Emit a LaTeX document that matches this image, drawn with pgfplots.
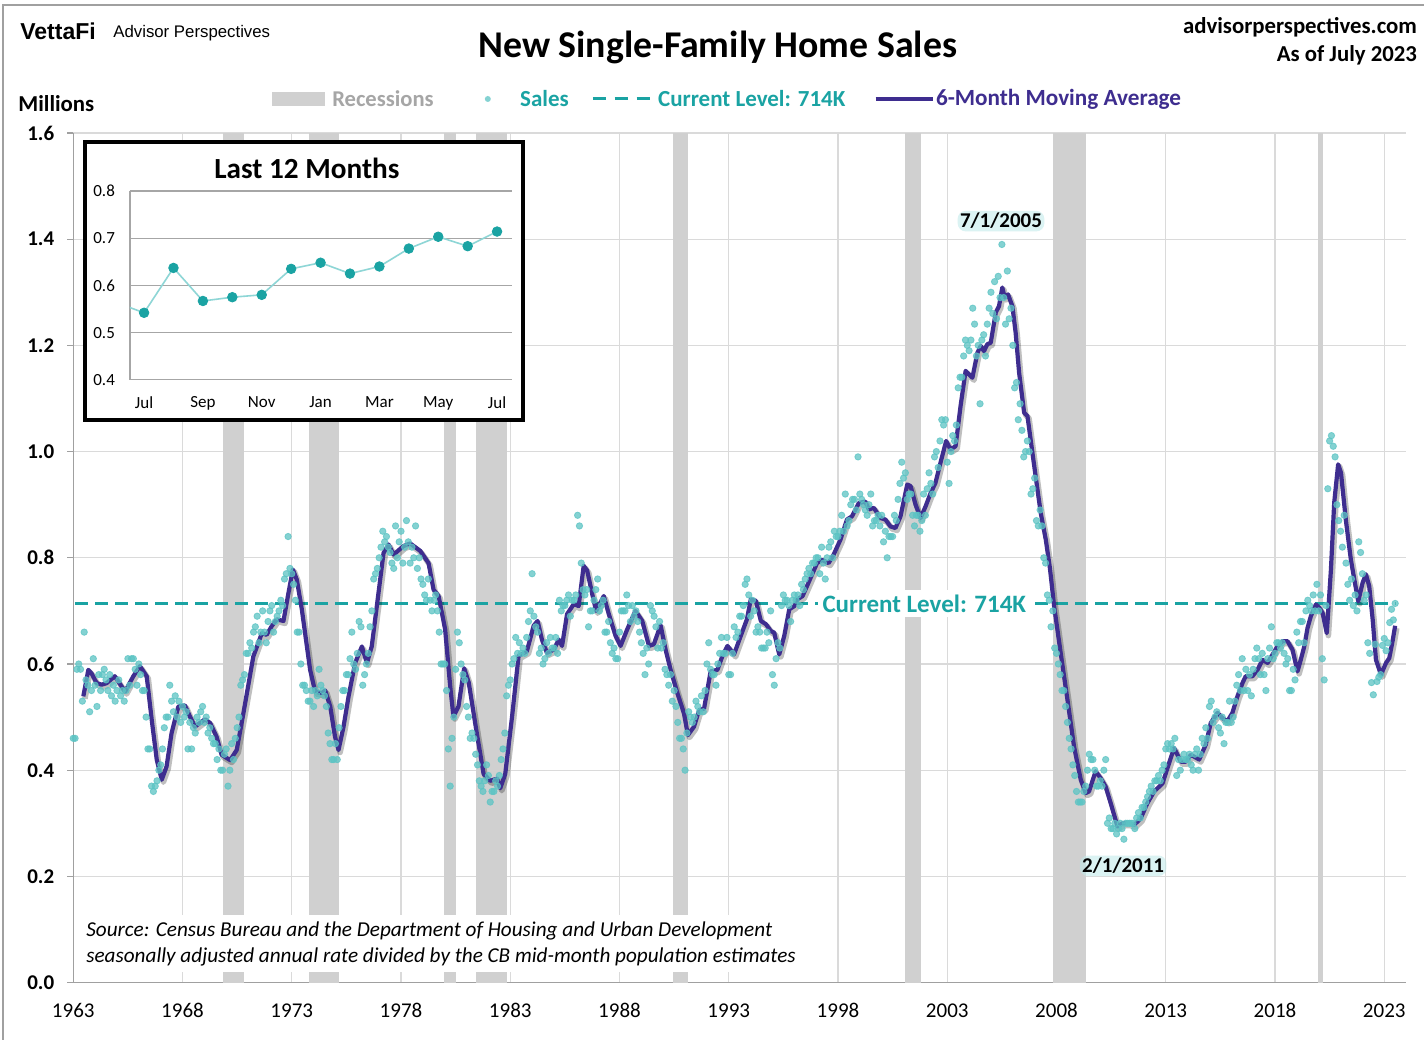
\documentclass[border=0pt]{standalone}
\usepackage{pgfplots}
\usepackage{pgfplotstable}
\pgfplotsset{compat=1.18}
\usepackage{fontspec}
\setmainfont{Carlito}
\newfontfamily\arialf{Liberation Sans}
\definecolor{recgray}{HTML}{D0D0D0}
\definecolor{gridgray}{HTML}{DADADA}
\definecolor{axgray}{HTML}{A0A0A0}
\definecolor{insetgray}{HTML}{A6A6A6}
\definecolor{tealc}{HTML}{1AA3A3}
\definecolor{dotc}{HTML}{5CC4C4}
\definecolor{linec}{HTML}{8ED6D6}
\definecolor{purp}{HTML}{3E2D8F}
\definecolor{leggray}{HTML}{A6A6A6}
\definecolor{glowc}{HTML}{BFEAEA}

\pgfplotstableread[header=false,row sep=\\]{
.46\\.46\\.59\\.60\\.59\\.53\\.66\\.57\\.56\\.51\\.55\\.61\\
.56\\.52\\.58\\.55\\.58\\.59\\.57\\.55\\.58\\.54\\.56\\.53\\
.55\\.57\\.54\\.55\\.53\\.55\\.61\\.56\\.61\\.61\\.59\\.56\\
.60\\.58\\.55\\.55\\.50\\.44\\.44\\.37\\.36\\.37\\.38\\.40\\
.41\\.44\\.48\\.50\\.50\\.56\\.53\\.51\\.54\\.50\\.53\\.49\\
.52\\.50\\.51\\.44\\.49\\.44\\.48\\.47\\.50\\.49\\.51\\.52\\
.49\\.50\\.47\\.48\\.46\\.45\\.45\\.42\\.44\\.40\\.40\\.43\\
.44\\.37\\.40\\.45\\.42\\.46\\.48\\.50\\.56\\.57\\.58\\.62\\
.62\\.64\\.63\\.66\\.67\\.69\\.64\\.66\\.70\\.66\\.64\\.68\\
.70\\.71\\.66\\.68\\.69\\.70\\.72\\.71\\.76\\.77\\.84\\.78\\
.77\\.75\\.72\\.66\\.66\\.60\\.56\\.56\\.55\\.53\\.53\\.55\\
.52\\.55\\.54\\.59\\.56\\.55\\.54\\.52\\.47\\.45\\.42\\.42\\
.45\\.42\\.48\\.52\\.55\\.55\\.58\\.58\\.61\\.66\\.60\\.59\\
.62\\.68\\.67\\.56\\.58\\.60\\.62\\.67\\.70\\.76\\.77\\.78\\
.80\\.82\\.85\\.83\\.84\\.82\\.81\\.79\\.78\\.86\\.80\\.83\\
.85\\.79\\.82\\.87\\.83\\.79\\.82\\.80\\.86\\.78\\.80\\.76\\
.75\\.73\\.72\\.76\\.72\\.70\\.72\\.73\\.70\\.66\\.60\\.60\\
.60\\.55\\.44\\.37\\.46\\.50\\.59\\.66\\.64\\.60\\.58\\.57\\
.52\\.50\\.46\\.47\\.46\\.43\\.41\\.38\\.37\\.36\\.38\\.41\\
.39\\.34\\.36\\.36\\.38\\.37\\.39\\.42\\.44\\.47\\.54\\.56\\
.57\\.60\\.61\\.65\\.62\\.64\\.62\\.63\\.62\\.65\\.68\\.70\\
.77\\.69\\.67\\.66\\.62\\.63\\.60\\.61\\.64\\.62\\.65\\.63\\
.63\\.65\\.62\\.72\\.70\\.71\\.71\\.72\\.73\\.69\\.72\\.72\\
.73\\.88\\.86\\.79\\.74\\.73\\.74\\.67\\.70\\.70\\.72\\.74\\
.76\\.70\\.71\\.72\\.66\\.66\\.68\\.64\\.62\\.63\\.61\\.61\\
.66\\.70\\.70\\.70\\.73\\.71\\.68\\.71\\.69\\.70\\.68\\.66\\
.64\\.62\\.58\\.63\\.60\\.71\\.70\\.69\\.67\\.63\\.68\\.63\\
.64\\.59\\.58\\.56\\.58\\.53\\.55\\.52\\.49\\.46\\.46\\.44\\
.40\\.47\\.51\\.50\\.49\\.50\\.53\\.52\\.51\\.54\\.51\\.55\\
.60\\.64\\.59\\.58\\.58\\.56\\.60\\.62\\.65\\.62\\.62\\.65\\
.58\\.58\\.62\\.67\\.65\\.66\\.69\\.69\\.71\\.75\\.76\\.73\\
.69\\.72\\.70\\.66\\.67\\.66\\.63\\.63\\.63\\.66\\.64\\.70\\
.58\\.56\\.61\\.64\\.63\\.71\\.73\\.72\\.72\\.71\\.68\\.72\\
.73\\.72\\.73\\.71\\.75\\.74\\.76\\.77\\.78\\.77\\.79\\.79\\
.80\\.80\\.77\\.82\\.79\\.76\\.80\\.82\\.83\\.80\\.85\\.84\\
.84\\.85\\.88\\.85\\.92\\.86\\.87\\.90\\.91\\.91\\.89\\.99\\
.92\\.91\\.90\\.89\\.88\\.90\\.92\\.86\\.87\\.87\\.88\\.86\\
.88\\.83\\.85\\.80\\.84\\.84\\.84\\.88\\.87\\.91\\.94\\.98\\
.95\\.96\\.91\\.92\\.92\\.88\\.86\\.88\\.88\\.85\\.87\\.92\\
.88\\.93\\.96\\.94\\.92\\.99\\1.00\\.97\\1.02\\1.06\\1.05\\1.06\\
.98\\.94\\1.00\\1.03\\1.02\\1.05\\1.12\\1.14\\1.14\\1.18\\1.21\\1.20\\
1.19\\1.21\\1.27\\1.24\\1.18\\1.20\\1.09\\1.21\\1.22\\1.18\\1.24\\1.27\\
1.30\\1.26\\1.32\\1.25\\1.33\\1.29\\1.39\\1.29\\1.24\\1.34\\1.25\\1.27\\
1.20\\1.12\\1.13\\1.06\\1.09\\1.04\\.99\\1.00\\1.02\\1.00\\.92\\.93\\
.95\\.87\\.86\\.89\\.86\\.80\\.79\\.73\\.72\\.67\\.70\\.63\\
.62\\.60\\.58\\.55\\.55\\.52\\.49\\.46\\.44\\.41\\.39\\.36\\
.34\\.34\\.34\\.36\\.37\\.40\\.43\\.42\\.42\\.40\\.37\\.37\\
.38\\.37\\.40\\.42\\.30\\.31\\.29\\.29\\.30\\.28\\.29\\.30\\
.29\\.27\\.30\\.30\\.30\\.30\\.30\\.29\\.31\\.32\\.31\\.33\\
.33\\.34\\.35\\.36\\.37\\.36\\.38\\.38\\.39\\.38\\.40\\.41\\
.44\\.45\\.44\\.45\\.44\\.46\\.39\\.42\\.40\\.42\\.43\\.42\\
.42\\.43\\.41\\.40\\.43\\.44\\.40\\.43\\.46\\.45\\.48\\.46\\
.52\\.53\\.49\\.50\\.51\\.48\\.47\\.50\\.45\\.49\\.49\\.53\\
.49\\.50\\.53\\.56\\.58\\.55\\.61\\.55\\.59\\.55\\.58\\.54\\
.59\\.61\\.63\\.61\\.58\\.62\\.58\\.55\\.61\\.63\\.67\\.61\\
.62\\.64\\.64\\.63\\.64\\.62\\.60\\.61\\.55\\.55\\.59\\.57\\
.66\\.64\\.68\\.68\\.64\\.70\\.72\\.71\\.70\\.73\\.70\\.75\\
.70\\.73\\.61\\.57\\.71\\.93\\1.02\\1.03\\1.01\\.99\\.90\\.87\\
.85\\.82\\.88\\.79\\.75\\.72\\.76\\.71\\.73\\.70\\.83\\.81\\
.77\\.72\\.73\\.64\\.62\\.565\\.542\\.637\\.567\\.575\\.58\\.635\\
.648\\.625\\.64\\.678\\.703\\.683\\.714\\
}\salesdata

\pgfplotstableread{
x y
1963.46 .539
1963.69 .589
1963.84 .582
1964.07 .564
1964.3 .561
1964.53 .564
1964.9 .577
1965.37 .548
1965.75 .577
1966.05 .596
1966.36 .577
1966.59 .495
1966.82 .42
1967.05 .382
1967.27 .407
1967.5 .47
1967.81 .52
1968.11 .522
1968.34 .501
1968.57 .482
1969.03 .496
1969.26 .489
1969.56 .463
1969.79 .429
1970.18 .419
1970.48 .438
1970.79 .508
1971.24 .614
1971.63 .658
1971.85 .655
1972.08 .671
1972.31 .684
1972.62 .681
1972.85 .734
1973.05 .778
1973.23 .759
1973.46 .703
1973.61 .658
1973.84 .589
1974.07 .548
1974.37 .545
1974.53 .55
1974.76 .52
1974.98 .463
1975.14 .438
1975.37 .482
1975.6 .539
1975.9 .602
1976.21 .633
1976.44 .602
1976.66 .633
1976.97 .734
1977.2 .809
1977.43 .825
1977.66 .806
1978.11 .822
1978.42 .827
1978.88 .813
1979.26 .79
1979.49 .74
1979.72 .728
1980.02 .665
1980.25 .558
1980.4 .501
1980.63 .52
1980.89 .592
1981.1 .565
1981.47 .469
1981.78 .393
1982.08 .38
1982.39 .384
1982.54 .366
1982.77 .393
1983.08 .5
1983.38 .615
1983.76 .624
1984.07 .672
1984.25 .681
1984.45 .646
1984.68 .621
1984.99 .627
1985.22 .646
1985.37 .634
1985.6 .694
1985.91 .713
1986.13 .709
1986.36 .785
1986.52 .776
1986.75 .732
1986.93 .7
1987.28 .728
1987.51 .694
1987.82 .653
1988.05 .634
1988.35 .665
1988.73 .7
1989.04 .681
1989.35 .634
1989.57 .637
1989.88 .673
1990.11 .627
1990.34 .589
1990.65 .545
1990.95 .507
1991.13 .466
1991.41 .482
1991.64 .513
1991.87 .516
1992.17 .586
1992.48 .589
1992.71 .615
1992.94 .634
1993.24 .618
1993.55 .653
1993.83 .684
1994.01 .722
1994.24 .719
1994.47 .681
1994.7 .675
1994.93 .662
1995.08 .659
1995.31 .618
1995.54 .653
1995.77 .703
1996.0 .709
1996.15 .722
1996.38 .728
1996.69 .757
1997.04 .79
1997.27 .796
1997.57 .79
1997.8 .806
1998.11 .834
1998.41 .872
1998.64 .878
1998.95 .903
1999.25 .906
1999.41 .891
1999.64 .894
1999.94 .875
2000.17 .872
2000.4 .859
2000.63 .856
2000.86 .878
2001.17 .938
2001.32 .935
2001.55 .9
2001.78 .875
2002.01 .897
2002.24 .922
2002.46 .941
2002.69 .979
2002.95 1.02
2003.15 1.004
2003.38 1.01
2003.61 1.086
2003.84 1.152
2004.15 1.139
2004.38 1.186
2004.53 1.199
2004.68 1.189
2004.83 1.202
2004.99 1.205
2005.22 1.262
2005.37 1.274
2005.52 1.309
2005.63 1.29
2005.78 1.296
2005.98 1.274
2006.13 1.224
2006.29 1.148
2006.52 1.073
2006.67 1.067
2006.9 .997
2007.13 .928
2007.28 .884
2007.51 .834
2007.7 .78
2007.89 .709
2008.19 .621
2008.5 .533
2008.8 .445
2009.11 .382
2009.34 .357
2009.49 .36
2009.79 .398
2010.02 .385
2010.25 .369
2010.48 .338
2010.79 .294
2011.02 .3
2011.32 .3
2011.55 .297
2011.85 .309
2012.16 .338
2012.47 .36
2012.85 .375
2013.15 .413
2013.38 .442
2013.69 .416
2013.92 .416
2014.15 .429
2014.53 .42
2014.83 .448
2015.06 .489
2015.37 .508
2015.6 .498
2015.82 .492
2016.05 .508
2016.28 .539
2016.51 .564
2016.66 .577
2016.97 .577
2017.2 .589
2017.43 .608
2017.66 .602
2017.89 .618
2018.11 .633
2018.34 .643
2018.57 .643
2018.8 .627
2019.03 .586
2019.18 .608
2019.34 .633
2019.49 .668
2019.64 .69
2019.87 .712
2020.02 .706
2020.18 .696
2020.37 .658
2020.56 .778
2020.71 .904
2020.89 .976
2021.02 .96
2021.24 .872
2021.47 .797
2021.63 .759
2021.81 .718
2022.01 .753
2022.16 .769
2022.31 .747
2022.47 .684
2022.62 .608
2022.85 .58
2023.08 .602
2023.23 .611
2023.38 .643
2023.5 .672
}\madata

\pgfplotstableread{
m v
-1 .565
0 .542
1 .637
2 .567
3 .575
4 .58
5 .635
6 .648
7 .625
8 .64
9 .678
10 .703
11 .683
12 .714
}\insetdata

\tikzset{glowlbl/.style={font=\bfseries\fontsize{10.5}{12}\selectfont, text=black, fill=glowc, fill opacity=0.55, text opacity=1, rounded corners=4pt, inner sep=1.2pt}}

\begin{document}
\begin{tikzpicture}
\fill[white] (0,0) rectangle (712.5pt,-520pt);
\draw[axgray, line width=0.6pt] (1.5pt,-520pt) -- (1.5pt,-2.5pt) -- (712.5pt,-2.5pt);

\begin{axis}[at={(36.65pt,-491.5pt)}, anchor=south west, scale only axis,
  width=666.7pt, height=425pt,
  xmin=1963, xmax=2024, ymin=0, ymax=1.6,
  axis lines*=left, axis line style={draw=axgray, line width=0.6pt},
  xtick={1963,1968,1973,1978,1983,1988,1993,1998,2003,2008,2013,2018,2023},
  ytick={0,0.2,0.4,0.6,0.8,1.0,1.2,1.4,1.6},
  grid=major, grid style={draw=gridgray, line width=0.6pt},
  major tick length=3pt, tick align=outside, tick style={draw=axgray, line width=0.6pt},
  xtick style={draw=none},
  /pgf/number format/assume math mode=true,
  xticklabel style={font=\fontsize{10.5}{12}\selectfont, /pgf/number format/1000 sep={}, yshift=-4pt},
  yticklabel style={font=\bfseries\fontsize{10.5}{12}\selectfont, /pgf/number format/fixed, /pgf/number format/fixed zerofill, /pgf/number format/precision=1, xshift=-3pt},
]
% recessions
\addplot[fill=recgray, draw=none] coordinates {(1969.85,1.6)(1970.8,1.6)} \closedcycle;
\addplot[fill=recgray, draw=none] coordinates {(1973.77,1.6)(1975.14,1.6)} \closedcycle;
\addplot[fill=recgray, draw=none] coordinates {(1979.95,1.6)(1980.5,1.6)} \closedcycle;
\addplot[fill=recgray, draw=none] coordinates {(1981.41,1.6)(1982.83,1.6)} \closedcycle;
\addplot[fill=recgray, draw=none] coordinates {(1990.43,1.6)(1991.15,1.6)} \closedcycle;
\addplot[fill=recgray, draw=none] coordinates {(2001.07,1.6)(2001.8,1.6)} \closedcycle;
\addplot[fill=recgray, draw=none] coordinates {(2007.84,1.6)(2009.35,1.6)} \closedcycle;
\addplot[fill=recgray, draw=none] coordinates {(2019.96,1.6)(2020.2,1.6)} \closedcycle;
% sales
\addplot[dotc, only marks, mark=*, mark size=1.6pt, mark options={draw=none, fill=dotc, opacity=0.75}]
  table[x expr=1963+\coordindex/12, y index=0] {\salesdata};
% current level
\addplot[tealc, line width=1.5pt, dash pattern=on 6.5pt off 3.5pt] coordinates {(1963.1,0.714)(2023.5,0.714)};
% moving average shadow + line
\addplot[black, opacity=0.25, line width=2.8pt, xshift=0.8pt, yshift=-1.2pt, line join=round] table[x=x,y=y] {\madata};
\addplot[purp, line width=2.1pt, line join=round] table[x=x,y=y] {\madata};
\node[fill=white, text=tealc, font=\bfseries\fontsize{12.5}{14}\selectfont, inner sep=2.5pt] at (axis cs:2001.95,0.714) {Current Level: 714K};
\node[glowlbl] at (axis cs:2005.46,1.434) {7/1/2005};
\node[glowlbl] at (axis cs:2011.05,0.22) {2/1/2011};
\end{axis}

\begin{scope}[x=0.5pt,y=-0.5pt]
\draw[line width=2pt, fill=white] (85,142) rectangle (523,420);
\node[anchor=west, fill=white, inner sep=3pt, align=left, font=\itshape\fontsize{10.6}{13}\selectfont] at (80,944)
  {Source: Census Bureau and the Department of Housing and Urban Development\\seasonally adjusted annual rate divided by the CB mid-month population estimates};
\end{scope}

\begin{axis}[at={(65pt,-190pt)}, anchor=south west, scale only axis,
  width=191pt, height=94.5pt,
  xmin=-0.48, xmax=12.5, ymin=0.4, ymax=0.8,
  axis lines*=left, x axis line style={draw=none}, y axis line style={draw=insetgray, line width=0.6pt},
  ytick={0.4,0.5,0.6,0.7,0.8}, ymajorgrids, grid style={draw=insetgray, line width=0.6pt},
  xtick={0,2,4,6,8,10,12}, xticklabels={Jul,Sep,Nov,Jan,Mar,May,Jul},
  major tick length=0pt,
  /pgf/number format/assume math mode=true,
  xticklabel style={font=\fontsize{8.5}{10}\selectfont, yshift=-5pt},
  yticklabel style={font=\fontsize{8.5}{10}\selectfont, /pgf/number format/fixed, /pgf/number format/fixed zerofill, /pgf/number format/precision=1, xshift=-4pt},
]
\addplot[linec, line width=0.8pt] table[x=m,y=v] {\insetdata};
\addplot[tealc, only marks, mark=*, mark size=2.4pt, mark options={draw=none, fill=tealc}] table[x=m,y=v, restrict x to domain=0:12] {\insetdata};
\end{axis}

\begin{scope}[x=0.5pt,y=-0.5pt]
\node[font=\bfseries\fontsize{14.6}{16}\selectfont] at (307,168) {Last 12 Months};
% header
\node[anchor=west, font=\arialf\bfseries\fontsize{11.5}{13}\selectfont, inner sep=0pt] at (20,31) {VettaFi};
\node[anchor=west, font=\arialf\fontsize{8.4}{10}\selectfont, inner sep=0pt] at (113,33) {Advisor Perspectives};
\node[font=\bfseries\fontsize{18.9}{22}\selectfont] at (718,47) {New Single-Family Home Sales};
\node[anchor=east, font=\bfseries\fontsize{11.4}{13}\selectfont, inner sep=0pt] at (1418,27) {advisorperspectives.com};
\node[anchor=east, font=\bfseries\fontsize{11.4}{13}\selectfont, inner sep=0pt] at (1418,55) {As of July 2023};
\node[anchor=west, font=\bfseries\fontsize{11.4}{13}\selectfont, inner sep=0pt] at (18,104) {Millions};
% legend
\fill[recgray] (272,92) rectangle (325,106);
\node[anchor=west, text=leggray, font=\bfseries\fontsize{11.3}{13}\selectfont, inner sep=0pt] at (332,99) {Recessions};
\fill[dotc, opacity=0.75] (488,99) circle (3);
\node[anchor=west, text=tealc, font=\bfseries\fontsize{11.5}{13}\selectfont, inner sep=0pt] at (520,99) {Sales};
\draw[tealc, line width=1.5pt, dash pattern=on 6.5pt off 4.5pt] (593,99) -- (650,99);
\node[anchor=west, text=tealc, font=\bfseries\fontsize{11.5}{13}\selectfont, inner sep=0pt] at (658,99) {Current Level: 714K};
\draw[purp, line width=2pt] (876,99) -- (933,99);
\node[anchor=west, text=purp, font=\bfseries\fontsize{11.6}{13}\selectfont, inner sep=0pt] at (936,99) {6-Month Moving Average};
\end{scope}
\end{tikzpicture}
\end{document}
